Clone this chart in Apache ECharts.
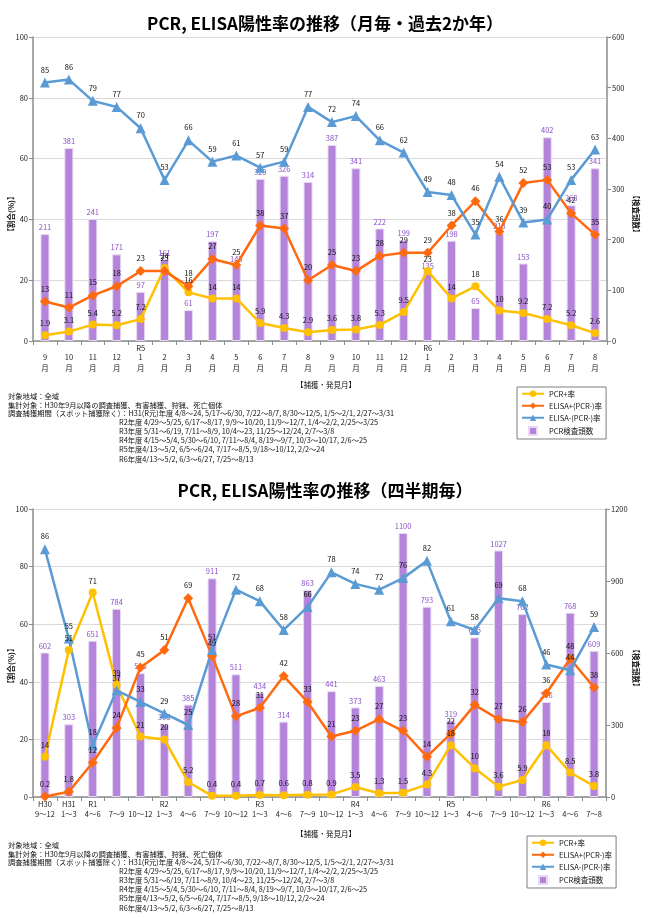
<!DOCTYPE html>
<html><head><meta charset="utf-8">
<script src="https://cdn.jsdelivr.net/npm/echarts@6/dist/echarts.min.js"></script>
<style>html,body{margin:0;padding:0;background:#fff}#c{width:650px;height:918px}</style>
</head><body><div id="c"></div>
<script>
// ---------- Monthly chart data (past 2 years) ----------
const months = ['9','10','11','12','1','2','3','4','5','6','7','8','9','10','11','12','1','2','3','4','5','6','7','8'];
const monthEra = ['','','','','R5','','','','','','','','','','','','R6','','','','','','',''];
const mPcrPos = [1.9, 3.1, 5.4, 5.2, 7.2, 24, 16, 14, 14, 5.9, 4.3, 2.9, 3.6, 3.8, 5.3, 9.5, 23, 14, 18, 10, 9.2, 7.2, 5.2, 2.6];
const mElisaPos = [13, 11, 15, 18, 23, 23, 18, 27, 25, 38, 37, 20, 25, 23, 28, 29, 29, 38, 46, 36, 52, 53, 42, 35];
const mElisaNeg = [85, 86, 79, 77, 70, 53, 66, 59, 61, 57, 59, 77, 72, 74, 66, 62, 49, 48, 35, 54, 39, 40, 53, 63];
const mCount = [211, 381, 241, 171, 97, 161, 61, 197, 148, 320, 326, 314, 387, 341, 222, 199, 135, 198, 65, 213, 153, 402, 268, 341];

// ---------- Quarterly chart data ----------
const quarters = ['9～12','1～3','4～6','7～9','10～12','1～3','4～6','7～9','10～12','1～3','4～6','7～9','10～12','1～3','4～6','7～9','10～12','1～3','4～6','7～9','10～12','1～3','4～6','7～8'];
const quarterEra = ['H30','H31','R1','','','R2','','','','R3','','','','R4','','','','R5','','','','R6','',''];
const qPcrPos = [14, 51, 71, 39, 21, 20, 5.2, 0.4, 0.4, 0.7, 0.6, 0.8, 0.9, 3.5, 1.3, 1.5, 4.3, 18, 10, 3.6, 5.9, 18, 8.5, 3.8];
const qElisaPos = [0.2, 1.8, 12, 24, 45, 51, 69, 49, 28, 31, 42, 33, 21, 23, 27, 23, 14, 22, 32, 27, 26, 36, 48, 38];
const qElisaNeg = [86, 55, 18, 37, 33, 29, 25, 51, 72, 68, 58, 66, 78, 74, 72, 76, 82, 61, 58, 69, 68, 46, 44, 59];
const qCount = [602, 303, 651, 784, 516, 303, 385, 911, 511, 434, 314, 863, 441, 373, 463, 1100, 793, 319, 665, 1027, 762, 396, 768, 609];

// ---------- Texts ----------
const titles = ['PCR, ELISA陽性率の推移（月毎・過去2か年）', 'PCR, ELISA陽性率の推移（四半期毎）'];
const seriesNames = ['PCR+率', 'ELISA+(PCR-)率', 'ELISA-(PCR-)率', 'PCR検査頭数'];
const leftAxisName = '【割合(%)】';
const rightAxisName = '【検査頭数】';
const xAxisName = '【捕獲・発見月】';
const noteLines = [
  '対象地域：全域',
  '集計対象：H30年9月以降の調査捕獲、有害捕獲、狩猟、死亡個体',
  '調査捕獲期間（スポット捕獲除く）：H31(R元)年度 4/8～24, 5/17～6/30, 7/22～8/7, 8/30～12/5, 1/5～2/1, 2/27～3/31'
];
const periodLines = [
  'R2年度 4/29～5/25, 6/17～8/17, 9/9～10/20, 11/9～12/7, 1/4～2/2, 2/25～3/25',
  'R3年度 5/31～6/19, 7/11～8/9, 10/4～23, 11/25～12/24, 2/7～3/8',
  'R4年度 4/15～5/4, 5/30～6/10, 7/11～8/4, 8/19～9/7, 10/3～10/17, 2/6～25',
  'R5年度4/13～5/2, 6/5～6/24, 7/17～8/5, 9/18～10/12, 2/2～24',
  'R6年度4/13～5/2, 6/3～6/27, 7/25～8/13'
];

const FONT = '"Noto Sans CJK JP", "Noto Sans", sans-serif';
const FS = 7.5;
const C_YEL = '#FFC000', C_ORG = '#FF6A10', C_BLU = '#5B9BD5', C_BAR = '#B384DA', C_BARLBL = '#8A4FC8';

function lineS(name, data, color, symbol, size, xi, yi) {
  return {
    name, type: 'line', data, xAxisIndex: xi, yAxisIndex: yi, z: 5,
    symbol, symbolSize: size,
    lineStyle: { color, width: 2.5 }, itemStyle: { color },
    label: { show: true, position: 'top', distance: 4, fontSize: FS, color: '#111', fontFamily: FONT },
    emphasis: { disabled: true }
  };
}
function barS(data, xi, yi) {
  return {
    name: seriesNames[3], type: 'bar', data, xAxisIndex: xi, yAxisIndex: yi, z: 2,
    barWidth: 9,
    itemStyle: { color: C_BAR, borderColor: '#E8DAF4', borderWidth: 1 },
    label: { show: true, position: 'top', distance: 3, fontSize: FS, color: C_BARLBL, fontFamily: FONT },
    emphasis: { disabled: true }
  };
}
function valAxis(grid, pos, max, interval, split) {
  return {
    type: 'value', gridIndex: grid, position: pos, min: 0, max, interval,
    axisLine: { show: true, lineStyle: { color: '#8c8c8c', width: 1.5 } },
    axisTick: { show: true, length: 4, lineStyle: { color: '#8c8c8c' } },
    axisLabel: { fontSize: FS, color: '#222', margin: 5, fontFamily: FONT, formatter: v => String(v) },
    splitLine: { show: split, lineStyle: { color: '#DADADA', width: 1 } }
  };
}
function legendCfg(left, top) {
  return {
    left, top, orient: 'vertical', selectedMode: false,
    borderColor: '#7f7f7f', borderWidth: 1, padding: [3, 4], itemGap: 4.5,
    itemWidth: 22, itemHeight: 8,
    textStyle: { fontSize: FS, color: '#111', fontFamily: FONT },
    data: [
      { name: seriesNames[0] }, { name: seriesNames[1] }, { name: seriesNames[2] },
      { name: seriesNames[3], icon: 'path://M0,0L1,0L1,1L0,1Z' }
    ]
  };
}
function txt(x, y, text, extra) {
  return { type: 'text', x, y, silent: true, style: Object.assign({ text, fontSize: 7.3, fontFamily: FONT, fill: '#111', align: 'left', verticalAlign: 'middle' }, extra || {}) };
}

const graphics = [];
function notes(y0) {
  graphics.push(txt(8, y0, noteLines[0]));
  graphics.push(txt(8, y0 + 9, noteLines[1]));
  graphics.push(txt(8, y0 + 17, noteLines[2]));
  periodLines.forEach((l, i) => graphics.push(txt(119, y0 + 26 + i * 9.2, l)));
}
notes(396);
notes(845);
graphics.push(txt(326, 385, xAxisName, { align: 'center', fontSize: 7.5 }));
graphics.push(txt(326, 834, xAxisName, { align: 'center', fontSize: 7.5 }));
graphics.push(txt(11, 214, leftAxisName, { align: 'center', fontSize: 7.5, fontWeight: 'bold' }));
graphics.push(txt(636, 214, rightAxisName, { align: 'center', fontSize: 7.5, fontWeight: 'bold' }));
graphics.push(txt(11, 666, leftAxisName, { align: 'center', fontSize: 7.5, fontWeight: 'bold' }));
graphics.push(txt(636, 668, rightAxisName, { align: 'center', fontSize: 7.5, fontWeight: 'bold' }));
graphics[graphics.length - 4].rotation = Math.PI / 2;
graphics[graphics.length - 3].rotation = -Math.PI / 2;
graphics[graphics.length - 2].rotation = Math.PI / 2;
graphics[graphics.length - 1].rotation = -Math.PI / 2;

const chart = echarts.init(document.getElementById('c'), null, { renderer: 'canvas' });
chart.setOption({
  animation: false,
  backgroundColor: '#fff',
  textStyle: { fontFamily: FONT },
  title: [
    { text: titles[0], left: 'center', top: 10, textStyle: { fontSize: 17, fontWeight: 'bold', color: '#000', fontFamily: FONT } },
    { text: titles[1], left: 'center', top: 477, textStyle: { fontSize: 17, fontWeight: 'bold', color: '#000', fontFamily: FONT } }
  ],
  legend: [legendCfg(517, 387), legendCfg(527, 836)],
  grid: [
    { left: 33, top: 37, width: 574, height: 304 },
    { left: 33, top: 509, width: 573, height: 288 }
  ],
  xAxis: [
    { type: 'category', gridIndex: 0, data: months, position: 'bottom',
      axisLine: { lineStyle: { color: '#8c8c8c', width: 1.5 } },
      axisTick: { show: true, length: 4, lineStyle: { color: '#8c8c8c' } },
      axisLabel: { interval: 0, fontSize: FS, color: '#222', margin: 11, lineHeight: 11, fontFamily: FONT, formatter: v => v + '\n月' } },
    { type: 'category', gridIndex: 0, data: monthEra, position: 'bottom',
      axisLine: { show: false }, axisTick: { show: false },
      axisLabel: { interval: 0, fontSize: FS, color: '#222', margin: 3, fontFamily: FONT } },
    { type: 'category', gridIndex: 1, data: quarters, position: 'bottom',
      axisLine: { lineStyle: { color: '#8c8c8c', width: 1.5 } },
      axisTick: { show: true, length: 4, lineStyle: { color: '#8c8c8c' } },
      axisLabel: { interval: 0, fontSize: FS, color: '#222', margin: 13, fontFamily: FONT } },
    { type: 'category', gridIndex: 1, data: quarterEra, position: 'bottom',
      axisLine: { show: false }, axisTick: { show: false },
      axisLabel: { interval: 0, fontSize: FS, color: '#222', margin: 3, fontFamily: FONT } }
  ],
  yAxis: [
    valAxis(0, 'left', 100, 20, true),
    valAxis(0, 'right', 600, 100, false),
    valAxis(1, 'left', 100, 20, true),
    valAxis(1, 'right', 1200, 300, false)
  ],
  series: [
    barS(mCount, 0, 1),
    lineS(seriesNames[0], mPcrPos, C_YEL, 'circle', 8, 0, 0),
    lineS(seriesNames[1], mElisaPos, C_ORG, 'diamond', 10, 0, 0),
    lineS(seriesNames[2], mElisaNeg, C_BLU, 'triangle', 10, 0, 0),
    barS(qCount, 2, 3),
    lineS(seriesNames[0], qPcrPos, C_YEL, 'circle', 8, 2, 2),
    lineS(seriesNames[1], qElisaPos, C_ORG, 'diamond', 10, 2, 2),
    lineS(seriesNames[2], qElisaNeg, C_BLU, 'triangle', 10, 2, 2)
  ],
  graphic: graphics
});
</script></body></html>
